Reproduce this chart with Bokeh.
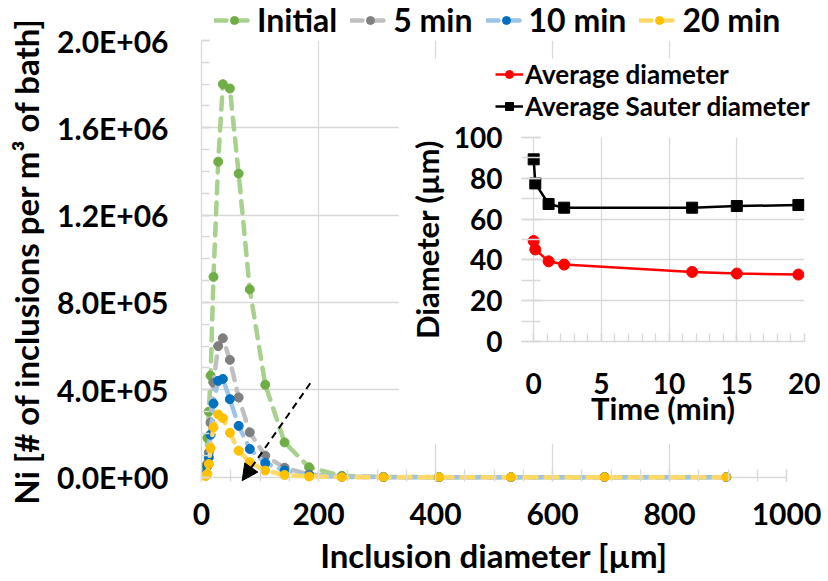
from bokeh.plotting import figure
from bokeh.models import Range1d, SingleIntervalTicker, Legend, LegendItem, Arrow, NormalHead
from bokeh.embed import file_html
from bokeh.resources import INLINE

# ---------------- data ----------------
diameter_um = [7, 10, 12.5, 15.5, 20.5, 28.5, 36.5, 48.5, 63.5, 82.5, 109, 142, 184, 240, 311, 406, 529, 689, 897]
ni_initial = [50000, 180000, 300000, 465000, 917000, 1445000, 1800000, 1780000, 1390000, 860000, 423000, 159000, 45000, 6000, 1000, 0, 0, 0, 0]
ni_5min = [20000, 60000, 113000, 250000, 433000, 600000, 636000, 537000, 365000, 205000, 98000, 43000, 12000, 2000, 0, 0, 0, 0, 0]
ni_10min = [15000, 50000, 90000, 194000, 337000, 441000, 450000, 357000, 235000, 129000, 65000, 30000, 8000, 1000, 0, 0, 0, 0, 0]
ni_20min = [5000, 15000, 60000, 133000, 228000, 287000, 270000, 203000, 121000, 68000, 30000, 10000, 3000, 0, 0, 0, 0, 0, 0]
series_values = [ni_initial, ni_5min, ni_10min, ni_20min]
series_labels = ["Initial", "5 min", "10 min", "20 min"]
line_colors = ["#a9d18e", "#c0c0c0", "#9dc3e6", "#ffd966"]
marker_colors = ["#70ad47", "#7f7f7f", "#0070c0", "#ffc000"]

x_tick_values = [0, 200, 400, 600, 800, 1000]
x_tick_labels = ["0", "200", "400", "600", "800", "1000"]
y_tick_values = [0, 400000, 800000, 1200000, 1600000, 2000000]
y_tick_labels = ["0.0E+00", "4.0E+05", "8.0E+05", "1.2E+06", "1.6E+06", "2.0E+06"]

arrow_start = (186, 430000)
arrow_end = (69.5, -16000)

time_min = [0, 0.12, 1.1, 2.25, 11.7, 15.0, 19.55]
avg_diameter = [49.3, 45.1, 39.3, 37.7, 34.1, 33.3, 32.8]
sauter_diameter = [89.3, 77.5, 67.4, 65.6, 65.6, 66.4, 66.9]
inset_labels = ["Average diameter", "Average Sauter diameter"]

FONT = "Lato"
GRID = "#d9d9d9"


def style_legend(lg, size, glyph_w, spacing):
    lg.label_text_font = FONT
    lg.label_text_font_style = "bold"
    lg.label_text_font_size = size
    lg.label_text_color = "black"
    lg.label_height = 26
    lg.glyph_height = 20
    lg.glyph_width = glyph_w
    lg.label_standoff = 3
    lg.spacing = spacing
    lg.padding = 0
    lg.margin = 0
    lg.border_line_alpha = 0
    lg.background_fill_alpha = 0


def bare_figure(w, h, left_border, fill):
    # a frame-only figure used to host a legend outside the data area
    f = figure(width=w, height=h, x_range=Range1d(-1, -0.5), y_range=Range1d(-1, -0.5),
               x_axis_location=None, y_axis_location=None,
               output_backend="svg", toolbar_location=None,
               min_border_left=left_border, min_border_right=0, min_border_top=0, min_border_bottom=0)
    f.grid.visible = False
    f.outline_line_color = None
    if fill is None:
        f.border_fill_alpha = 0
        f.background_fill_alpha = 0
    else:
        f.border_fill_color = fill
        f.background_fill_color = fill
    return f


def style_axis(ax, tick_size, label_size):
    ax.axis_line_color = GRID
    ax.axis_line_width = 1.3
    ax.major_tick_line_color = GRID
    ax.minor_tick_line_color = GRID
    ax.major_tick_line_width = 1.3
    ax.minor_tick_line_width = 1.3
    ax.major_label_text_font = FONT
    ax.major_label_text_font_style = "bold"
    ax.major_label_text_font_size = tick_size
    ax.major_label_text_color = "black"
    ax.axis_label_text_font = FONT
    ax.axis_label_text_font_style = "bold"
    ax.axis_label_text_font_size = label_size
    ax.axis_label_text_color = "black"


# ---------------- main chart ----------------
p = figure(width=828, height=581, x_range=Range1d(0, 1000), y_range=Range1d(-20000, 2000000),
           output_backend="svg", toolbar_location=None,
           min_border_left=201, min_border_right=42, min_border_top=40, min_border_bottom=100)
p.outline_line_color = None

xt = SingleIntervalTicker(interval=200, num_minor_ticks=4)
yt = SingleIntervalTicker(interval=400000, num_minor_ticks=4)
p.xaxis.ticker = xt
p.yaxis.ticker = yt
p.xgrid.ticker = xt
p.ygrid.ticker = yt
p.xgrid.grid_line_color = GRID
p.ygrid.grid_line_color = GRID
p.xgrid.grid_line_width = 1.3
p.ygrid.grid_line_width = 1.3

p.xaxis.major_label_overrides = dict(zip(x_tick_values, x_tick_labels))
p.yaxis.major_label_overrides = dict(zip(y_tick_values, y_tick_labels))

for ax in (p.xaxis[0], p.yaxis[0]):
    style_axis(ax, "30px", "33px")
    ax.major_tick_in = 8
    ax.major_tick_out = 0
    ax.minor_tick_in = 8
    ax.minor_tick_out = 0

p.xaxis.axis_line_color = None
p.xaxis.major_tick_in = 12
p.xaxis.minor_tick_in = 12
p.xaxis.major_label_standoff = 21
p.xaxis.axis_label_standoff = 7
p.xaxis.axis_label = "Inclusion diameter [µm]"
p.yaxis.major_label_standoff = 33
p.yaxis.axis_label_standoff = 8
p.yaxis.axis_label = "Ni [# of inclusions per m³ of bath]"

for ys, lc, mc in zip(series_values, line_colors, marker_colors):
    p.line(diameter_um, ys, line_color=lc, line_width=4.5, line_dash="12 9", line_cap="round")
    p.scatter(diameter_um, ys, marker="circle", size=9, fill_color=mc, line_color=mc)

p.add_layout(Arrow(end=NormalHead(size=16, fill_color="black", line_color="black"),
                   x_start=arrow_start[0], y_start=arrow_start[1],
                   x_end=arrow_end[0], y_end=arrow_end[1],
                   line_color="black", line_width=2, line_dash="7 5"))
p.styles = {"position": "absolute", "left": "0px", "top": "0px"}

# main legend (transparent strip above the plot; its renderers lie outside its ranges)
leg_main = bare_figure(600, 44, 0, None)
items = []
for lab, ys, lc, mc in zip(series_labels, series_values, line_colors, marker_colors):
    r1 = leg_main.line(diameter_um, ys, line_color=lc, line_width=4.5, line_dash="12 9", line_cap="round")
    r2 = leg_main.scatter(diameter_um, ys, marker="circle", size=9, fill_color=mc, line_color=mc)
    items.append(LegendItem(label=lab, renderers=[r1, r2]))
lg = Legend(items=items, orientation="horizontal", location=(0, 5))
style_legend(lg, "32px", 40, 13)
leg_main.add_layout(lg)
leg_main.styles = {"position": "absolute", "left": "214px", "top": "0px"}

# ---------------- inset chart ----------------
ins = figure(width=422, height=328, x_range=Range1d(-0.9, 20), y_range=Range1d(0, 100),
             output_backend="svg", toolbar_location=None,
             min_border_left=123, min_border_right=16, min_border_top=21, min_border_bottom=103)
ins.outline_line_color = None
ins.background_fill_color = "white"
ins.border_fill_color = "white"
ixt = SingleIntervalTicker(interval=5, num_minor_ticks=5)
iyt = SingleIntervalTicker(interval=20, num_minor_ticks=2)
ins.xaxis.ticker = ixt
ins.yaxis.ticker = iyt
ins.xgrid.ticker = ixt
ins.ygrid.ticker = iyt
ins.xgrid.grid_line_color = GRID
ins.ygrid.grid_line_color = GRID
ins.xgrid.grid_line_width = 1.3
ins.ygrid.grid_line_width = 1.3
ins.ygrid.cross_bounds = (0, 20)
for ax in (ins.xaxis[0], ins.yaxis[0]):
    style_axis(ax, "28px", "31px")
ins.xaxis.bounds = (0, 20)
ins.xaxis.major_tick_in = 8
ins.xaxis.major_tick_out = 0
ins.xaxis.minor_tick_in = 8
ins.xaxis.minor_tick_out = 0
ins.xaxis.major_label_standoff = 31
ins.xaxis.axis_label_standoff = -8
ins.xaxis.axis_label = "Time (min)"
ins.yaxis.axis_line_color = None
ins.yaxis.major_tick_in = 19
ins.yaxis.major_tick_out = 0
ins.yaxis.minor_tick_in = 19
ins.yaxis.minor_tick_out = 0
ins.yaxis.major_label_standoff = 19
ins.yaxis.axis_label_standoff = 5
ins.yaxis.axis_label = "Diameter (µm)"

ins.line(time_min, avg_diameter, line_color="#ff0000", line_width=2.5)
ins.scatter(time_min, avg_diameter, marker="circle", size=11, fill_color="#ff0000", line_color="#ff0000")
ins.line(time_min, sauter_diameter, line_color="black", line_width=2.5)
ins.scatter(time_min, sauter_diameter, marker="square", size=11, fill_color="black", line_color="black")
ins.styles = {"position": "absolute", "left": "398px", "top": "116px"}

# inset legend (white strip above the inset plot)
leg_ins = bare_figure(410, 64, 85, "white")
il1 = leg_ins.line(time_min, avg_diameter, line_color="#ff0000", line_width=2.5)
il2 = leg_ins.scatter(time_min, avg_diameter, marker="circle", size=11, fill_color="#ff0000", line_color="#ff0000")
il3 = leg_ins.line(time_min, sauter_diameter, line_color="black", line_width=2.5)
il4 = leg_ins.scatter(time_min, sauter_diameter, marker="square", size=11, fill_color="black", line_color="black")
ilg = Legend(items=[LegendItem(label=inset_labels[0], renderers=[il1, il2]),
                    LegendItem(label=inset_labels[1], renderers=[il3, il4])],
             orientation="vertical", location=(0, 0))
style_legend(ilg, "26px", 28, -4)
ilg.label_standoff = 2
leg_ins.add_layout(ilg)
leg_ins.styles = {"position": "absolute", "left": "410px", "top": "58px"}

open("out.html", "w").write(file_html([p, ins, leg_ins, leg_main], INLINE))
